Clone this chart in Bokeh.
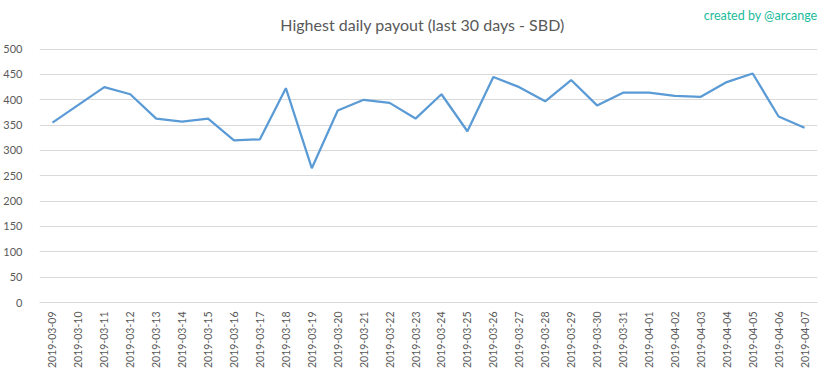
import math
from bokeh.plotting import figure
from bokeh.models import Range1d, Label, FixedTicker
from bokeh.embed import file_html
from bokeh.resources import INLINE

dates = ["2019-03-09", "2019-03-10", "2019-03-11", "2019-03-12", "2019-03-13",
         "2019-03-14", "2019-03-15", "2019-03-16", "2019-03-17", "2019-03-18",
         "2019-03-19", "2019-03-20", "2019-03-21", "2019-03-22", "2019-03-23",
         "2019-03-24", "2019-03-25", "2019-03-26", "2019-03-27", "2019-03-28",
         "2019-03-29", "2019-03-30", "2019-03-31", "2019-04-01", "2019-04-02",
         "2019-04-03", "2019-04-04", "2019-04-05", "2019-04-06", "2019-04-07"]
payout = [355, 390, 425, 411, 363, 357, 363, 320, 322, 423,
          265, 379, 400, 394, 363, 411, 338, 445, 425, 397,
          439, 389, 414, 414, 408, 406, 435, 452, 367, 345]
y_ticks = [0, 50, 100, 150, 200, 250, 300, 350, 400, 450, 500]

FONT = "Lato"
GRAY = "#595959"
GRID = "#d9d9d9"

# frame spans the full canvas height above the axis; headroom above 500 holds the titles
p = figure(width=825, height=371, x_range=dates, y_range=Range1d(0, 596),
           output_backend="svg", toolbar_location=None,
           min_border_left=39, min_border_right=8, min_border_top=0,
           min_border_bottom=65)
p.outline_line_color = None
p.background_fill_color = "white"
p.border_fill_color = "white"

p.line(dates, payout, line_color="#5b9bd5", line_width=2.25)

p.xgrid.grid_line_color = None
p.ygrid.grid_line_color = GRID
p.ygrid.grid_line_width = 1
p.ygrid.ticker = FixedTicker(ticks=y_ticks)

p.yaxis.ticker = FixedTicker(ticks=y_ticks)
p.yaxis.axis_line_color = None
p.yaxis.major_tick_line_color = None
p.yaxis.minor_tick_line_color = None
p.yaxis.major_label_standoff = 11
p.yaxis.major_label_text_font = FONT
p.yaxis.major_label_text_font_size = "11px"
p.yaxis.major_label_text_color = GRAY

p.xaxis.axis_line_color = GRID
p.xaxis.major_tick_line_color = None
p.xaxis.minor_tick_line_color = None
p.xaxis.major_label_orientation = math.pi / 2
p.xaxis.major_label_standoff = 3
p.xaxis.major_label_text_font = FONT
p.xaxis.major_label_text_font_size = "10.5px"
p.xaxis.major_label_text_color = GRAY

title = Label(x=len(dates) / 2, y=549, x_offset=-6,
              text="Highest daily payout (last 30 days - SBD)",
              text_font=FONT, text_font_size="16px", text_color=GRAY,
              text_align="center", text_baseline="middle")
p.add_layout(title)

credit = Label(x=len(dates), y=567, x_offset=0,
               text="created by @arcange", text_font=FONT,
               text_font_size="12.5px", text_color="#1abc9c",
               text_align="right", text_baseline="middle")
p.add_layout(credit)

open("out.html", "w").write(file_html(p, INLINE))
